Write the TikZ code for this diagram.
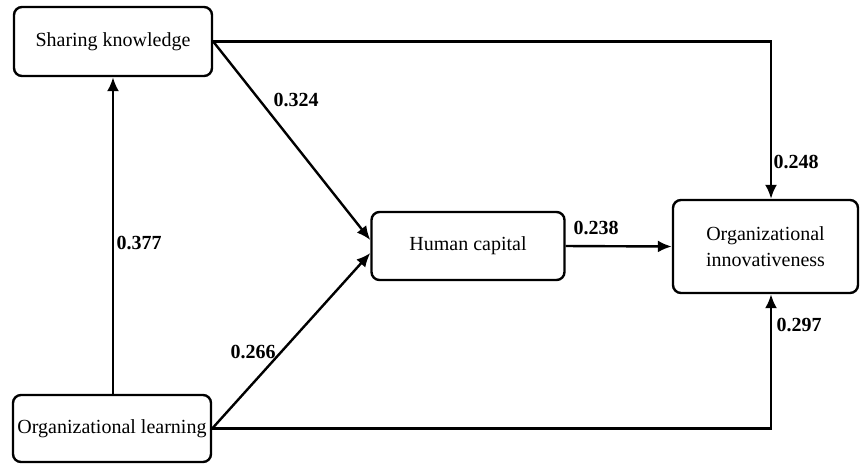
\documentclass[tikz,border=0pt]{standalone}
\usepackage{fontspec}
\setmainfont{Liberation Serif}
\usetikzlibrary{arrows.meta}
\begin{document}
\begin{tikzpicture}[x=0.5pt,y=-0.5pt,
  box/.style={draw, line width=1.2pt, rounded corners=4pt, inner sep=0pt, font=\fontsize{10}{13}\selectfont, align=center},
  conn/.style={line width=1.2pt, -{Latex[length=7pt,width=6pt]}},
  lab/.style={font=\bfseries\fontsize{10}{12}\selectfont, inner sep=0pt}]
\useasboundingbox (0,0) rectangle (860,463);
\node[box, minimum width=99pt, minimum height=34.5pt] (sk) at (113,41.5) {Sharing knowledge};
\node[box, minimum width=96.5pt, minimum height=34pt] (hc) at (468,246) {Human capital};
\node[box, minimum width=92.5pt, minimum height=46.5pt] (oi) at (765.5,246.5) {Organizational\\innovativeness};
\node[box, minimum width=99pt, minimum height=33.5pt] (ol) at (112,428.5) {Organizational learning};
\draw[conn] (ol.north -| sk.south) -- (sk.south);
\draw[conn] (sk.east) -- ([yshift=3pt]hc.west);
\draw[conn] (ol.east) -- ([yshift=-3.5pt]hc.west);
\draw[conn] (hc.east) -- (oi.west);
\draw[conn] (sk.east) -| ([xshift=2.75pt]oi.north);
\draw[conn] (ol.east) -| ([xshift=2.75pt]oi.south);
\node[lab] (l324) at (296,100) {0.324};
\node[lab] (l266) at (253,352) {0.266};
\node[lab] (l238) at (596,228) {0.238};
\node[lab] (l248) at (796,162) {0.248};
\node[lab] (l297) at (799,325) {0.297};
\node[lab] (l377) at (139,243) {0.377};
\end{tikzpicture}
\end{document}
